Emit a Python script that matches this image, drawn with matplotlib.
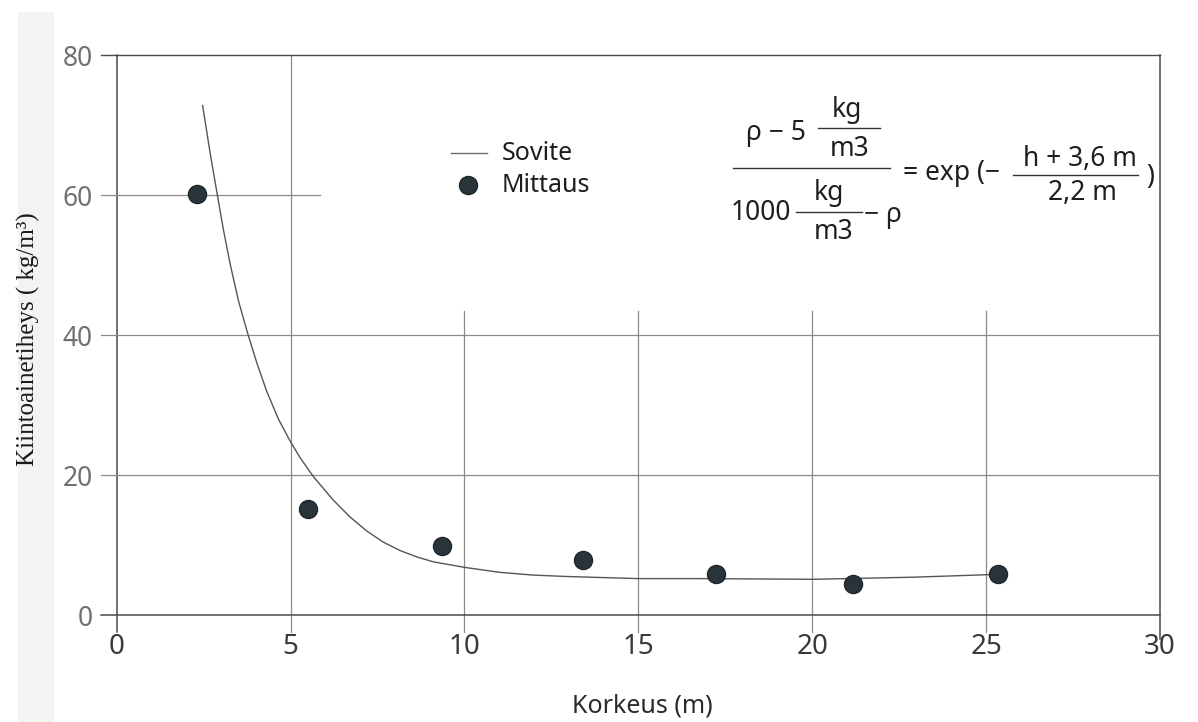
import matplotlib
matplotlib.use("Agg")
import matplotlib.pyplot as plt
from matplotlib import font_manager as fm
from matplotlib.lines import Line2D
from matplotlib.patches import Rectangle

# ---------------- data ----------------
x_ticks = [0, 5, 10, 15, 20, 25, 30]
y_ticks = [0, 20, 40, 60, 80]

meas_h = [2.32, 5.51, 9.36, 13.40, 17.23, 21.18, 25.35]
meas_rho = [60.1, 15.1, 9.9, 7.9, 5.9, 4.5, 5.8]

fit_h = [2.47, 2.68, 2.88, 3.07, 3.26, 3.50, 3.78, 4.03, 4.31, 4.65, 4.98,
         5.27, 5.65, 6.23, 6.71, 7.19, 7.67, 8.15, 8.63, 9.10, 10.01, 11.0,
         11.98, 12.94, 15.0, 16.77, 20.03, 22.9, 25.3]
fit_rho = [72.8, 66.2, 60.4, 55.0, 50.2, 44.9, 40.0, 36.0, 32.0, 28.0, 24.9,
           22.5, 19.8, 16.4, 14.0, 12.0, 10.4, 9.2, 8.3, 7.6, 6.8, 6.1,
           5.7, 5.5, 5.2, 5.2, 5.1, 5.4, 5.8]

x_label = "Korkeus (m)"
y_label = "Kiintoainetiheys ( kg/m³)"
legend_labels = ["Sovite", "Mittaus"]

# ---------------- fonts ----------------
names = {f.name for f in fm.fontManager.ttflist}
SANS = [n for n in ["Noto Sans", "Open Sans", "DejaVu Sans"] if n in names] + ["DejaVu Sans"]
SERIF = [n for n in ["Liberation Serif", "DejaVu Serif"] if n in names] + ["DejaVu Sans"]
plt.rcParams["font.family"] = SANS

W, H = 1198, 722
fig = plt.figure(figsize=(W / 100, H / 100), dpi=100)
fig.patch.set_facecolor("white")

# scanned-page strip at the left
fig.add_artist(Rectangle((18 / W, 0), 36 / W, 1 - 12 / H, transform=fig.transFigure,
                         facecolor="#f1f4f1", edgecolor="none", zorder=0))

ax_left, ax_right, ax_top, ax_bot = 116.7, 1160, 55, 615
ax = fig.add_axes([ax_left / W, 1 - ax_bot / H, (ax_right - ax_left) / W, (ax_bot - ax_top) / H])
ax.set_xlim(0, 30)
ax.set_ylim(0, 80)
ax.patch.set_alpha(0)
for s in ax.spines.values():
    s.set_visible(False)

grid_c = "#8a8a8a"
frame_c = "#4a4a4a"
# vertical lines
ax.plot([0, 0], [80, -2.4], color=frame_c, lw=1.1, clip_on=False)
ax.plot([5, 5], [80, -2.4], color=grid_c, lw=0.9, clip_on=False)
for xv in [10, 15, 20, 25]:
    ax.plot([xv, xv], [43.5, -2.4], color=grid_c, lw=0.9, clip_on=False)
ax.plot([30, 30], [80, -3.4], color=frame_c, lw=1.1, clip_on=False)
# horizontal lines
ax.plot([-0.45, 30], [80, 80], color=frame_c, lw=1.0, clip_on=False)
ax.plot([-0.45, 5.85], [60, 60], color=grid_c, lw=0.9, clip_on=False)
for yv in [40, 20]:
    ax.plot([-0.45, 30], [yv, yv], color=grid_c, lw=0.9, clip_on=False)
ax.plot([-0.45, 30], [0, 0], color=frame_c, lw=1.1, clip_on=False)

# tick labels
ax.set_xticks(x_ticks)
ax.set_xticklabels([str(v) for v in x_ticks], fontsize=20, color="#3a3a3a")
ax.set_yticks(y_ticks)
ax.set_yticklabels([str(v) for v in y_ticks], fontsize=19, color="#707070")
ax.tick_params(axis="x", length=0, pad=13)
ax.tick_params(axis="y", length=0, pad=17)

# data
ax.plot(fit_h, fit_rho, color="#555555", lw=1.0, zorder=3, clip_on=False)
ax.plot(meas_h, meas_rho, linestyle="none", marker="o", markersize=13,
        markerfacecolor="#29333a", markeredgecolor="#1f272c", zorder=4, clip_on=False)

# ---------------- helpers for figure-pixel text ----------------
def ftxt(x, y, s, size=19, ha="center", va="center", color="#1e1e1e", family=None, **kw):
    fig.text(x / W, 1 - y / H, s, fontsize=size, ha=ha, va=va, color=color,
             family=family or SANS, **kw)

def fline(x1, x2, y, color="#333333", lw=1.0):
    fig.add_artist(Line2D([x1 / W, x2 / W], [1 - y / H, 1 - y / H],
                          transform=fig.transFigure, color=color, lw=lw))

# axis labels
ftxt(642, 706, x_label, size=18, color="#2a2a2a")
ftxt(28, 339, y_label, size=18, rotation=90, family=SERIF, color="#1a1a1a")

# legend
fline(450.7, 486.7, 152.7, color="#6a6a6a", lw=1.0)
ftxt(502, 154, legend_labels[0], size=18, ha="left")
fig.add_artist(Line2D([468 / W], [1 - 185 / H], transform=fig.transFigure, marker="o",
                      markersize=13, markerfacecolor="#29333a", markeredgecolor="#1f272c",
                      linestyle="none"))
ftxt(502, 185, legend_labels[1], size=18, ha="left")

# formula
ftxt(746, 133.3, "ρ − 5", ha="left")
fline(818, 880, 128.3)
ftxt(847, 110, "kg")
ftxt(850, 149, "m3")
fline(733, 890, 168.3)
ftxt(731, 213.3, "1000", ha="left")
fline(796, 862, 212.3)
ftxt(829, 193.3, "kg")
ftxt(834, 232.3, "m3")
ftxt(864, 215, "− ρ", ha="left")
ftxt(903, 173.3, "= exp (−", ha="left")
ftxt(1080, 159, "h + 3,6 m")
fline(1013, 1138, 175)
ftxt(1082, 193.3, "2,2 m")
ftxt(1150, 176.7, ")")

fig.savefig("out.png", dpi=100, facecolor="white")
